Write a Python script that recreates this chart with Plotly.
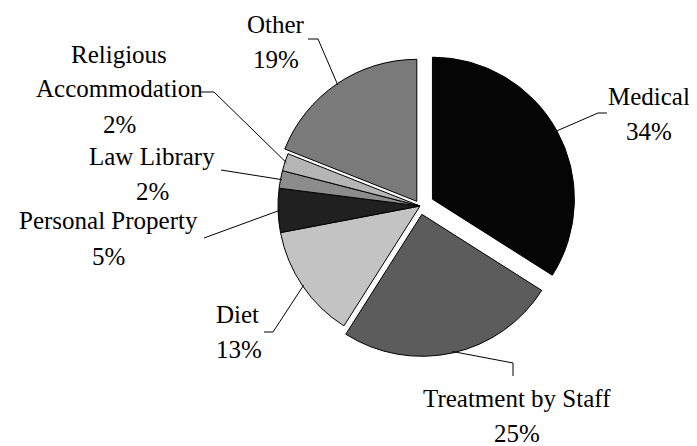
import math
import plotly.graph_objects as go

# ---- data ----
categories = ["Medical", "Treatment by Staff", "Diet", "Personal Property",
              "Law Library", "Religious Accommodation", "Other"]
values = [34, 25, 13, 5, 2, 2, 19]
label_names = [["Medical"], ["Treatment by Staff"], ["Diet"], ["Personal Property"],
               ["Law Library"], ["Religious", "Accommodation"], ["Other"]]

# ---- style / layout ----
OFF = 8                      # page body margin of the html page
W, H = 697 - OFF, 446 - OFF  # figure size so it fits the window
colors = ["#050505", "#5c5c5c", "#c3c3c3", "#202020", "#8c8c8c", "#b5b5b5", "#7a7a7a"]
pulls = [0.10, 0.06, 0.0, 0.0, 0.0, 0.0, 0.04]
CX, CY, R = 420, 206, 142          # pie centre / radius in screen pixels
FONT = dict(family="Liberation Serif, Times New Roman, serif", size=25, color="black")
LINE_GAP = 35

maxp = max(pulls)
half = R * (1 + maxp)


def px2paper(x, y):
    return (x - OFF) / W, 1 - (y - OFF) / H


d0 = px2paper(CX - half, CY + half)
d1 = px2paper(CX + half, CY - half)

# first-line centre (screen px) and anchor of each label block
label_pos = [(649, 96, "center"), (517, 398, "center"), (215, 314, "left"),
             (108, 221, "center"), (152, 156, "center"), (119, 54, "center"),
             (276, 24, "center")]
leader_pts = [[(598, 113), (607, 113)], [(513, 363), (513, 376)], [(273, 332), (264, 332)],
              [(204, 238)], [(221, 170)], [(214, 92), (201, 92)], [(318, 39), (308, 39)]]

fig = go.Figure(go.Pie(
    labels=categories, values=values, sort=False, direction="clockwise", rotation=0,
    marker=dict(colors=colors, line=dict(color="#000000", width=1)),
    pull=pulls, textinfo="none", hoverinfo="label+percent",
    domain=dict(x=[d0[0], d1[0]], y=[d0[1], d1[1]]), showlegend=False,
))

total = sum(values)
cum = 0
shapes, annotations = [], []
for i, v in enumerate(values):
    mid = (cum + v / 2) / total * 2 * math.pi
    cum += v
    dist = R * 0.99 + pulls[i] * R
    tx, ty = CX + dist * math.sin(mid), CY - dist * math.cos(mid)
    pts = [(tx, ty)] + leader_pts[i]
    path = ""
    for j, (x, y) in enumerate(pts):
        px, py = px2paper(x, y)
        path += ("M" if j == 0 else " L") + f" {px:.5f},{py:.5f}"
    shapes.append(dict(type="path", path=path, xref="paper", yref="paper",
                       line=dict(color="black", width=1)))
    lx, ly, anc = label_pos[i]
    lines = label_names[i] + [f"{v}%"]
    for k, txt in enumerate(lines):
        ax_, ay_ = px2paper(lx, ly + k * LINE_GAP)
        annotations.append(dict(text=txt, x=ax_, y=ay_, xref="paper", yref="paper",
                                xanchor=anc, yanchor="middle", showarrow=False,
                                borderpad=0, font=FONT))

fig.update_layout(width=W, height=H, margin=dict(l=0, r=0, t=0, b=0),
                  paper_bgcolor="white", plot_bgcolor="white",
                  shapes=shapes, annotations=annotations)
fig.write_html("out.html")
